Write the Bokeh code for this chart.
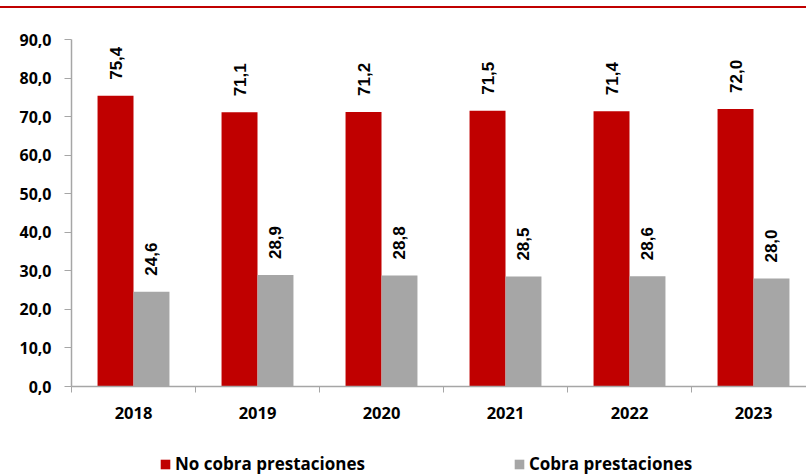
import numpy as np
from bokeh.plotting import figure
from bokeh.models import (ColumnDataSource, FixedTicker, Legend, LegendItem, Spacer)
from bokeh.layouts import column
from bokeh.core.properties import value
from bokeh.embed import file_html
from bokeh.resources import INLINE

# ---- data ----
years = ["2018", "2019", "2020", "2021", "2022", "2023"]
no_cobra = [75.4, 71.1, 71.2, 71.5, 71.4, 72.0]
cobra = [24.6, 28.9, 28.8, 28.5, 28.6, 28.0]
series_names = ["No cobra prestaciones", "Cobra prestaciones"]
y_ticks = [0, 10, 20, 30, 40, 50, 60, 70, 80, 90]

RED = "#C00000"
GREY = "#A6A6A6"
AXIS = "#A6A6A6"

idx = np.arange(len(years))
centers = idx + 0.5
off = 0.145
bw = 0.29

def fmt(v):
    return f"{v:.1f}".replace(".", ",")

src_a = ColumnDataSource(dict(x=centers - off, top=no_cobra,
                              lab=[fmt(v) for v in no_cobra]))
src_b = ColumnDataSource(dict(x=centers + off, top=cobra,
                              lab=[fmt(v) for v in cobra]))

W = 806
H = 432
p = figure(width=W, height=H, output_backend="svg", toolbar_location=None,
           x_range=(0, 735 / 124), y_range=(0, 90),
           min_border_left=71, min_border_right=0, min_border_top=31,
           min_border_bottom=54)
p.outline_line_color = None
p.xgrid.grid_line_color = None
p.ygrid.grid_line_color = None

p.vbar(x="x", top="top", width=bw, source=src_a, fill_color=RED, line_color=None)
p.vbar(x="x", top="top", width=bw, source=src_b, fill_color=GREY, line_color=None)

for s in (src_a, src_b):
    p.text(x="x", y="top", text="lab", source=s, angle=np.pi / 2,
           text_align="left", text_baseline="middle", y_offset=-16,
           text_font=value("Liberation Sans"), text_font_style="bold",
           text_font_size="17px", text_color="#000000")

# x axis
xa = p.xaxis[0]
xa.ticker = FixedTicker(ticks=list(centers), minor_ticks=[float(i) for i in range(len(years) + 1)])
xa.major_label_overrides = {float(c): y for c, y in zip(centers, years)}
xa.major_tick_line_color = None
xa.minor_tick_out = 6
xa.minor_tick_in = 0
xa.minor_tick_line_color = AXIS
xa.axis_line_color = AXIS
xa.axis_line_width = 1.5
xa.major_label_text_font = "Open Sans"
xa.major_label_text_font_style = "bold"
xa.major_label_text_font_size = "16.5px"
xa.major_label_text_color = "#000000"
xa.major_label_standoff = 14

# y axis
ya = p.yaxis[0]
ya.ticker = FixedTicker(ticks=y_ticks)
ya.major_label_overrides = {t: fmt(t) for t in y_ticks}
ya.minor_tick_line_color = None
ya.major_tick_out = 7
ya.major_tick_in = 0
ya.major_tick_line_color = AXIS
ya.axis_line_color = AXIS
ya.axis_line_width = 1.5
ya.major_label_text_font = "Open Sans"
ya.major_label_text_font_style = "bold"
ya.major_label_text_font_size = "16px"
ya.major_label_text_color = "#000000"
ya.major_label_standoff = 13

# legend strip (dummy renderers lie outside the visible range)
lg = figure(width=W, height=35, output_backend="svg", toolbar_location=None,
            x_range=(0, 1), y_range=(0, 1), x_axis_type=None, y_axis_type=None,
            min_border=0, min_border_left=0, min_border_right=0,
            min_border_top=0, min_border_bottom=0)
lg.outline_line_color = None
lg.xgrid.grid_line_color = None
lg.ygrid.grid_line_color = None
la = lg.vbar(x=[-5], top=[-5], width=0.1, fill_color=RED, line_color=None)
lb = lg.vbar(x=[-5], top=[-5], width=0.1, fill_color=GREY, line_color=None)
legend = Legend(items=[LegendItem(label=series_names[0], renderers=[la]),
                       LegendItem(label=series_names[1], renderers=[lb])],
                location=(88, 0), orientation="horizontal",
                padding=0, margin=0, spacing=148,
                glyph_width=12, glyph_height=12, label_standoff=4,
                label_text_font="Open Sans", label_text_font_style="bold",
                label_text_font_size="17px", label_text_color="#000000",
                border_line_color=None, background_fill_alpha=0)
lg.add_layout(legend, "center")

gap = Spacer(width=W, height=6)
top_line = Spacer(width=W, height=2, styles={"background-color": RED})
layout = column(gap, top_line, p, lg, spacing=0)

open("out.html", "w").write(file_html(layout, INLINE))
